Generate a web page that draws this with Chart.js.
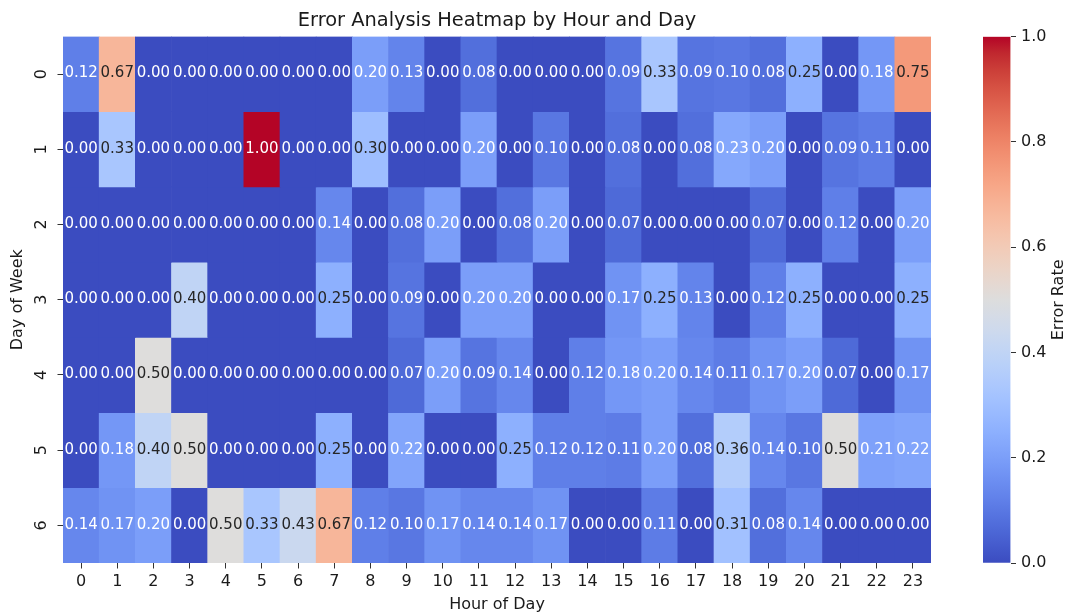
<!DOCTYPE html>
<html>
<head>
<meta charset="utf-8">
<title>Error Analysis Heatmap by Hour and Day</title>
<script src="https://cdn.jsdelivr.net/npm/chart.js@4.4.1/dist/chart.umd.min.js"></script>
<style>
  body { margin: 0; background: #fff; }
  #wrap { position: relative; width: 1069px; height: 615px; }
  #heatmap { position: absolute; left: 0; top: 0; }
  #colorbar { position: absolute; left: 960px; top: 0; }
</style>
</head>
<body>
<div id="wrap">
  <canvas id="heatmap" width="960" height="615"></canvas>
  <canvas id="colorbar" width="109" height="615"></canvas>
</div>
<script>
const hourLabels = ["0", "1", "2", "3", "4", "5", "6", "7", "8", "9", "10", "11",
                    "12", "13", "14", "15", "16", "17", "18", "19", "20", "21", "22", "23"];
const dayLabels = ["0", "1", "2", "3", "4", "5", "6"];

// error rate per hour, one array per day of week (values as printed in the cells)
const day0 = [0.12, 0.67, 0.00, 0.00, 0.00, 0.00, 0.00, 0.00, 0.20, 0.13, 0.00, 0.08, 0.00, 0.00, 0.00, 0.09, 0.33, 0.09, 0.10, 0.08, 0.25, 0.00, 0.18, 0.75];
const day1 = [0.00, 0.33, 0.00, 0.00, 0.00, 1.00, 0.00, 0.00, 0.30, 0.00, 0.00, 0.20, 0.00, 0.10, 0.00, 0.08, 0.00, 0.08, 0.23, 0.20, 0.00, 0.09, 0.11, 0.00];
const day2 = [0.00, 0.00, 0.00, 0.00, 0.00, 0.00, 0.00, 0.14, 0.00, 0.08, 0.20, 0.00, 0.08, 0.20, 0.00, 0.07, 0.00, 0.00, 0.00, 0.07, 0.00, 0.12, 0.00, 0.20];
const day3 = [0.00, 0.00, 0.00, 0.40, 0.00, 0.00, 0.00, 0.25, 0.00, 0.09, 0.00, 0.20, 0.20, 0.00, 0.00, 0.17, 0.25, 0.13, 0.00, 0.12, 0.25, 0.00, 0.00, 0.25];
const day4 = [0.00, 0.00, 0.50, 0.00, 0.00, 0.00, 0.00, 0.00, 0.00, 0.07, 0.20, 0.09, 0.14, 0.00, 0.12, 0.18, 0.20, 0.14, 0.11, 0.17, 0.20, 0.07, 0.00, 0.17];
const day5 = [0.00, 0.18, 0.40, 0.50, 0.00, 0.00, 0.00, 0.25, 0.00, 0.22, 0.00, 0.00, 0.25, 0.12, 0.12, 0.11, 0.20, 0.08, 0.36, 0.14, 0.10, 0.50, 0.21, 0.22];
const day6 = [0.14, 0.17, 0.20, 0.00, 0.50, 0.33, 0.43, 0.67, 0.12, 0.10, 0.17, 0.14, 0.14, 0.17, 0.00, 0.00, 0.11, 0.00, 0.31, 0.08, 0.14, 0.00, 0.00, 0.00];
const dayRates = [day0, day1, day2, day3, day4, day5, day6];

const colorbarTicks = [0.0, 0.2, 0.4, 0.6, 0.8, 1.0];

// coolwarm colormap, 33 evenly spaced stops from 0 to 1
const coolwarm = [
    [59, 76, 192], [68, 90, 204], [77, 104, 215], [87, 117, 225], [98, 130, 234],
    [108, 142, 241], [119, 154, 247], [130, 165, 251], [141, 176, 254], [152, 185, 255],
    [163, 194, 255], [174, 201, 253], [184, 208, 249], [194, 213, 244], [204, 217, 238],
    [213, 219, 230], [221, 221, 221], [229, 216, 209], [236, 211, 197], [241, 204, 185],
    [245, 196, 173], [247, 187, 160], [247, 177, 148], [247, 166, 135], [244, 154, 123],
    [241, 141, 111], [236, 127, 99], [229, 112, 88], [222, 96, 77], [213, 80, 66],
    [203, 62, 56], [192, 40, 47], [180, 4, 38]
];

function coolwarmColor(v) {
    // matplotlib looks colours up in a 256 entry table
    let idx = Math.min(255, Math.max(0, Math.floor(v * 256)));
    let t = idx / 255 * (coolwarm.length - 1);
    let i = Math.min(coolwarm.length - 2, Math.floor(t));
    let f = t - i;
    let a = coolwarm[i];
    let b = coolwarm[i + 1];
    return a.map((c, k) => Math.round(c + (b[k] - c) * f));
}

function rgb(c) {
    return `rgb(${c[0]}, ${c[1]}, ${c[2]})`;
}

function textColorFor(v) {
    let lin = coolwarmColor(v).map(c => {
        c = c / 255;
        return c <= 0.03928 ? c / 12.92 : Math.pow((c + 0.055) / 1.055, 2.4);
    });
    let lum = 0.2126 * lin[0] + 0.7152 * lin[1] + 0.0722 * lin[2];
    return lum > 0.408 ? "#262626" : "#ffffff";
}

Chart.defaults.font.family = "'DejaVu Sans', sans-serif";
Chart.defaults.font.size = 16;
Chart.defaults.color = "#1a1a1a";

const tickFont = { family: "'DejaVu Sans', sans-serif", size: 16 };

// write the value into each cell
const cellLabels = {
    id: "cellLabels",
    afterDatasetsDraw(chart) {
        const ctx = chart.ctx;
        ctx.save();
        ctx.font = "15px 'DejaVu Sans', sans-serif";
        ctx.textAlign = "center";
        ctx.textBaseline = "middle";
        dayRates.forEach((rates, d) => {
            let meta = chart.getDatasetMeta(d);
            rates.forEach((v, h) => {
                let p = meta.data[h].getCenterPoint();
                ctx.fillStyle = textColorFor(v);
                ctx.fillText(v.toFixed(2), p.x, p.y - 0.5);
            });
        });
        ctx.restore();
    }
};

let datasets = dayRates.map((rates, d) => ({
    label: "Day " + dayLabels[d],
    data: rates.map(() => [d, d + 1]),
    backgroundColor: rates.map(v => rgb(coolwarmColor(v))),
    borderWidth: 0,
    grouped: false,
    barPercentage: 1,
    categoryPercentage: 1
}));

new Chart(document.getElementById("heatmap"), {
    type: "bar",
    data: { labels: hourLabels, datasets: datasets },
    options: {
        responsive: false,
        animation: false,
        layout: { padding: { left: 0, right: 29, top: 0, bottom: 0 } },
        plugins: {
            legend: { display: false },
            tooltip: { enabled: false },
            title: {
                display: true,
                text: "Error Analysis Heatmap by Hour and Day",
                fullSize: false,
                color: "#1a1a1a",
                font: { family: "'DejaVu Sans', sans-serif", size: 19.4, weight: "normal", lineHeight: 1.2 },
                padding: { top: 9.5, bottom: 3.7 }
            }
        },
        scales: {
            x: {
                type: "category",
                offset: true,
                grid: { drawOnChartArea: false, drawTicks: true, tickLength: 5.5, offset: false, color: "#333" },
                border: { display: false },
                ticks: { font: tickFont, padding: 3.5, minRotation: 0, maxRotation: 0, autoSkip: false },
                title: { display: true, text: "Hour of Day", font: tickFont, padding: { top: 0, bottom: 0.5 } },
                afterFit(scale) { scale.height = 52; }
            },
            y: {
                type: "linear",
                min: 0,
                max: 7,
                reverse: true,
                afterBuildTicks(scale) {
                    scale.ticks = dayLabels.map((_, d) => ({ value: d + 0.5 }));
                },
                grid: { drawOnChartArea: false, drawTicks: true, tickLength: 5.5, color: "#333" },
                border: { display: false },
                ticks: {
                    font: tickFont,
                    minRotation: 90,
                    maxRotation: 90,
                    crossAlign: "center",
                    padding: 11,
                    callback: value => dayLabels[Math.floor(value)]
                },
                title: { display: true, text: "Day of Week", font: tickFont, padding: { top: 8.5, bottom: 0 } },
                afterFit(scale) { scale.width = 63; }
            }
        }
    },
    plugins: [cellLabels]
});

// colorbar label reads bottom to top like the y axis title
const colorbarTitle = {
    id: "colorbarTitle",
    afterDraw(chart) {
        const ctx = chart.ctx;
        const area = chart.chartArea;
        ctx.save();
        ctx.translate(99, (area.top + area.bottom) / 2);
        ctx.rotate(-Math.PI / 2);
        ctx.font = "16px 'DejaVu Sans', sans-serif";
        ctx.fillStyle = "#1a1a1a";
        ctx.textAlign = "center";
        ctx.textBaseline = "middle";
        ctx.fillText("Error Rate", 0, 0);
        ctx.restore();
    }
};

new Chart(document.getElementById("colorbar"), {
    type: "bar",
    data: {
        labels: ["Error Rate"],
        datasets: [{
            data: [[colorbarTicks[0], colorbarTicks[colorbarTicks.length - 1]]],
            backgroundColor(context) {
                const area = context.chart.chartArea;
                if (!area) return rgb(coolwarm[0]);
                let g = context.chart.ctx.createLinearGradient(0, area.bottom, 0, area.top);
                coolwarm.forEach((c, i) => g.addColorStop(i / (coolwarm.length - 1), rgb(c)));
                return g;
            },
            borderWidth: 0,
            barPercentage: 1,
            categoryPercentage: 1
        }]
    },
    options: {
        responsive: false,
        animation: false,
        layout: { padding: { left: 23, right: 0, top: 36.7, bottom: 52 } },
        plugins: {
            legend: { display: false },
            tooltip: { enabled: false }
        },
        scales: {
            x: { display: false },
            y: {
                position: "right",
                min: 0,
                max: 1,
                afterBuildTicks(scale) {
                    scale.ticks = colorbarTicks.map(v => ({ value: v }));
                },
                grid: { drawOnChartArea: false, drawTicks: true, tickLength: 5.5, color: "#333" },
                border: { display: false },
                ticks: { font: tickFont, padding: 5, callback: value => value.toFixed(1) },
                afterFit(scale) { scale.width = 58.5; }
            }
        }
    },
    plugins: [colorbarTitle]
});
</script>
</body>
</html>
